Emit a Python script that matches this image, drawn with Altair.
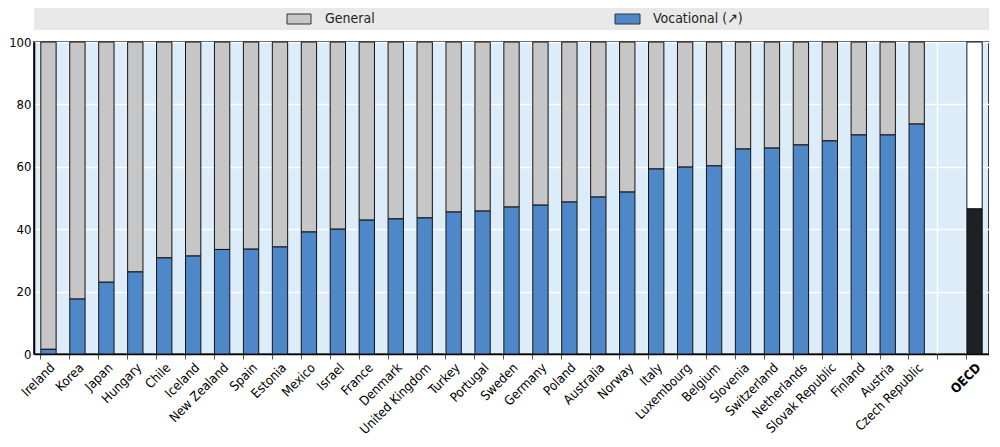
import altair as alt
import pandas as pd

countries = ["Ireland", "Korea", "Japan", "Hungary", "Chile", "Iceland", "New Zealand", "Spain",
             "Estonia", "Mexico", "Israel", "France", "Denmark", "United Kingdom", "Turkey", "Portugal",
             "Sweden", "Germany", "Poland", "Australia", "Norway", "Italy", "Luxembourg", "Belgium",
             "Slovenia", "Switzerland", "Netherlands", "Slovak Republic", "Finland", "Austria",
             "Czech Republic", "", "OECD"]
vocational = [1.5, 17.6, 23.0, 26.3, 30.8, 31.4, 33.5, 33.6, 34.3, 39.1, 40.0, 42.9, 43.3, 43.6,
              45.5, 45.8, 47.1, 47.7, 48.7, 50.3, 51.9, 59.3, 59.9, 60.3, 65.7, 66.0, 67.0, 68.3,
              70.2, 70.2, 73.7, None, 46.5]
kind = ["country"] * 31 + ["blank", "oecd"]
legend_labels = ["General", "Vocational (\u2197)"]

df = pd.DataFrame({"country": countries, "voc": vocational, "kind": kind})
df["total"] = 100.0
df["key"] = [c if c else " " for c in countries]
bars = df[df["kind"] != "blank"]
one = pd.DataFrame({"a": [0]})

FONT = "DejaVu Sans Condensed, Roboto Condensed, Liberation Sans Narrow, Roboto, sans-serif"

W, H = 955, 312
xenc = alt.X("key:N", sort=list(df["key"]),
             scale=alt.Scale(domain=list(df["key"]), paddingInner=0.47, paddingOuter=0.235),
             axis=alt.Axis(title=None, labelAngle=-45, labelAlign="right", labelBaseline="top",
                           labelFont=FONT, labelFontSize=13, labelColor="#000",
                           bandPosition=0, grid=True, gridColor="white", gridWidth=1.5,
                           tickColor="#555", tickSize=5, domainColor="#000", domainWidth=1.5,
                           labelPadding=2,
                           labelFontWeight=alt.ExprRef("datum.value == 'OECD' ? 'bold' : 'normal'")))
yscale = alt.Scale(domain=[0, 100], nice=False)

base = alt.Chart(bars)

general = base.mark_bar(stroke="#111", strokeWidth=1).encode(
    x=xenc,
    y=alt.Y("voc:Q", scale=yscale,
            axis=alt.Axis(title=None, values=[0, 20, 40, 60, 80, 100], grid=True, gridColor="white",
                          gridWidth=1.5, ticks=False, domainColor="#000", domainWidth=1.5,
                          labelFont=FONT, labelFontSize=13, labelColor="#000",
                          labelPadding=3)),
    y2="total:Q",
    fill=alt.condition("datum.kind == 'oecd'", alt.value("#ffffff"), alt.value("#c6c6c6")),
)
voc = base.mark_bar(stroke="#111", strokeWidth=1).encode(
    x=xenc,
    y=alt.Y("voc:Q", scale=yscale),
    fill=alt.condition("datum.kind == 'oecd'", alt.value("#1e2124"), alt.value("#4f88c9")),
)

leg = alt.Chart(one)
leg_bg = leg.mark_rect(fill="#e8e8e8").encode(
    x=alt.value(0), x2=alt.value(W), y=alt.value(-34), y2=alt.value(-12))
sw1 = leg.mark_rect(fill="#c6c6c6", stroke="#333", strokeWidth=1).encode(
    x=alt.value(253), x2=alt.value(277), y=alt.value(-28), y2=alt.value(-18))
tx1 = leg.mark_text(text=legend_labels[0], align="left", baseline="middle",
                    font=FONT, fontSize=14, color="#222").encode(
    x=alt.value(291), y=alt.value(-23))
sw2 = leg.mark_rect(fill="#4f88c9", stroke="#333", strokeWidth=1).encode(
    x=alt.value(581), x2=alt.value(606), y=alt.value(-28), y2=alt.value(-18))
tx2 = leg.mark_text(text=legend_labels[1], align="left", baseline="middle",
                    font=FONT, fontSize=14, color="#222").encode(
    x=alt.value(619), y=alt.value(-23))

chart = alt.layer(leg_bg, sw1, tx1, sw2, tx2, general, voc).properties(
    width=W, height=H,
    autosize=alt.AutoSizeParams(type="none"),
    padding={"left": 26, "top": 34, "right": 0, "bottom": 82},
).configure_view(fill="#dcedf9", stroke="#000", strokeWidth=1.5)

chart.save("out.html", embed_options={"renderer": "svg", "actions": False})
